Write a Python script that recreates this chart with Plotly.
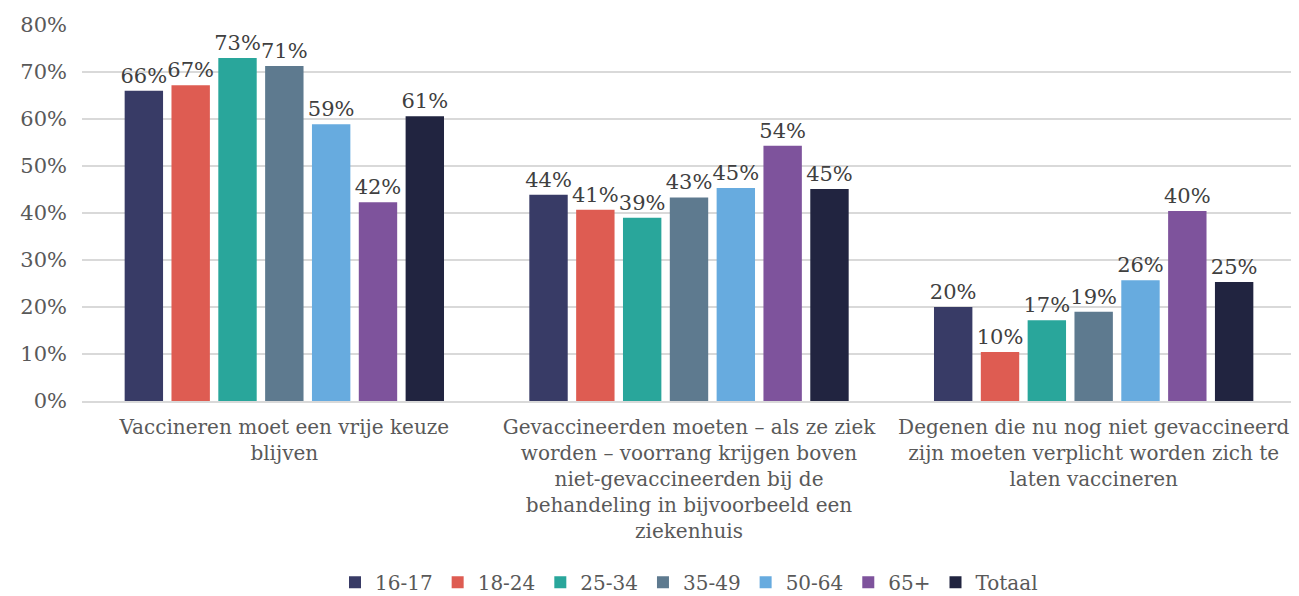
import plotly.graph_objects as go

categories = [
    "Vaccineren moet een vrije keuze<br>blijven",
    "Gevaccineerden moeten – als ze ziek<br>worden – voorrang krijgen boven<br>niet-gevaccineerden bij de<br>behandeling in bijvoorbeeld een<br>ziekenhuis",
    "Degenen die nu nog niet gevaccineerd<br>zijn moeten verplicht worden zich te<br>laten vaccineren",
]
groups = ["16-17", "18-24", "25-34", "35-49", "50-64", "65+", "Totaal"]
colors = ["#383b66", "#de5c52", "#29a69b", "#5e7a8f", "#67abdf", "#7e539c", "#212440"]

v_16_17 = [0.660, 0.439, 0.200]
v_18_24 = [0.672, 0.407, 0.104]
v_25_34 = [0.730, 0.390, 0.172]
v_35_49 = [0.713, 0.433, 0.190]
v_50_64 = [0.589, 0.453, 0.257]
v_65plus = [0.423, 0.543, 0.404]
v_totaal = [0.606, 0.451, 0.253]
series = [v_16_17, v_18_24, v_25_34, v_35_49, v_50_64, v_65plus, v_totaal]

font = "DejaVu Serif"

fig = go.Figure()
for name, vals, col in zip(groups, series, colors):
    fig.add_trace(go.Bar(
        name=name,
        x=categories,
        y=vals,
        marker_color=col,
        marker_line_width=0,
        text=[f"{v:.0%}" for v in vals],
        textposition="outside",
        constraintext="none",
        textfont=dict(family=font, size=21, color="#404040"),
        cliponaxis=False,
    ))

# page body has an 8px margin, so the figure is a bit smaller than the window
fig.update_layout(
    width=1291,
    height=588,
    barmode="group",
    bargap=0.19,
    bargroupgap=0.18,
    plot_bgcolor="white",
    paper_bgcolor="white",
    margin=dict(l=74, r=3, t=17, b=195, autoexpand=False),
    font=dict(family=font, size=20, color="#595959"),
    legend=dict(
        orientation="h",
        x=0.5, xanchor="center",
        y=-0.43, yanchor="top",
        font=dict(family=font, size=20, color="#595959"),
        itemwidth=30,
        tracegroupgap=0,
    ),
    showlegend=True,
)
fig.update_yaxes(
    range=[0, 0.8],
    dtick=0.1,
    tickformat=".0%",
    showgrid=True,
    gridcolor="#d9d9d9",
    gridwidth=2,
    zeroline=False,
    ticks="",
    automargin=False,
    ticklabelstandoff=14,
    tickfont=dict(family=font, size=21, color="#595959"),
)
fig.update_xaxes(
    showline=True,
    linecolor="#d9d9d9",
    linewidth=2,
    automargin=False,
    ticklabelstandoff=7,
    tickfont=dict(family=font, size=20, color="#595959"),
    ticks="",
)

fig.write_html("out.html")
